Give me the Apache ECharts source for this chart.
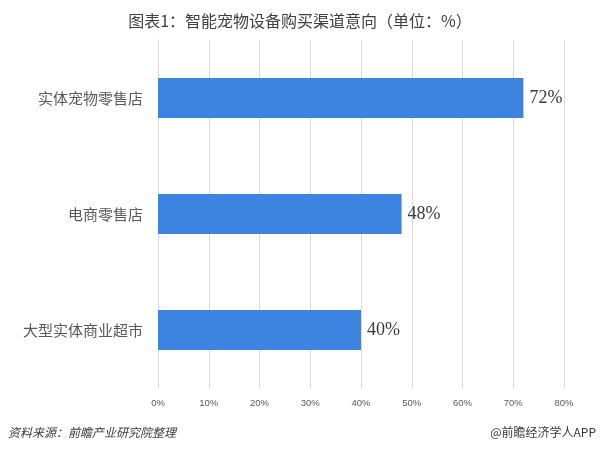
<!DOCTYPE html>
<html>
<head>
<meta charset="utf-8">
<script src="https://cdn.jsdelivr.net/npm/echarts@6/dist/echarts.min.js"></script>
<style>html,body{margin:0;padding:0;background:#fff;}#c{width:600px;height:451px;}</style>
</head>
<body>
<div id="c"></div>
<script>
const categories = ['实体宠物零售店', '电商零售店', '大型实体商业超市'];
const values = [72, 48, 40];
const xTicks = [0, 10, 20, 30, 40, 50, 60, 70, 80];
const titleText = '图表1：智能宠物设备购买渠道意向（单位：%）';
const sourceText = '资料来源：前瞻产业研究院整理';
const brandText = '@前瞻经济学人APP';

const chart = echarts.init(document.getElementById('c'));
chart.setOption({
  backgroundColor: '#ffffff',
  animation: false,
  title: {
    text: titleText,
    left: 'center',
    top: 8,
    textStyle: { fontFamily: 'Noto Sans CJK SC', fontSize: 16, fontWeight: 'normal', color: '#404040' }
  },
  graphic: [
    { type: 'text', left: 8, top: 426, style: { text: sourceText, font: 'italic 12px "Noto Sans CJK SC"', fill: '#3a3a3a' } },
    { type: 'text', right: 4, top: 426, style: { text: brandText, font: '12px "Noto Sans CJK SC"', fill: '#3a3a3a' } }
  ],
  grid: { left: 158, right: 36, top: 40, bottom: 63 },
  xAxis: {
    type: 'value',
    min: xTicks[0],
    max: xTicks[xTicks.length - 1],
    interval: 10,
    axisLine: { show: false },
    axisTick: { show: false },
    splitLine: { show: true, lineStyle: { color: '#d9d9d9', width: 1 } },
    axisLabel: { formatter: '{value}%', fontFamily: 'Liberation Sans', fontSize: 9.5, color: '#595959', margin: 10 }
  },
  yAxis: {
    type: 'category',
    data: categories,
    inverse: true,
    axisLine: { show: true, lineStyle: { color: '#d9d9d9' } },
    axisTick: { show: false },
    axisLabel: { fontFamily: 'Noto Sans CJK SC', fontSize: 15, color: '#595959', margin: 15 }
  },
  series: [{
    type: 'bar',
    data: values,
    barWidth: 40,
    itemStyle: { color: '#3d84e0' },
    label: {
      show: true,
      position: 'right',
      distance: 6,
      formatter: '{c}%',
      fontFamily: 'Liberation Serif',
      fontSize: 18,
      fontWeight: 500,
      color: '#3a3a3a'
    }
  }]
});
</script>
</body>
</html>
